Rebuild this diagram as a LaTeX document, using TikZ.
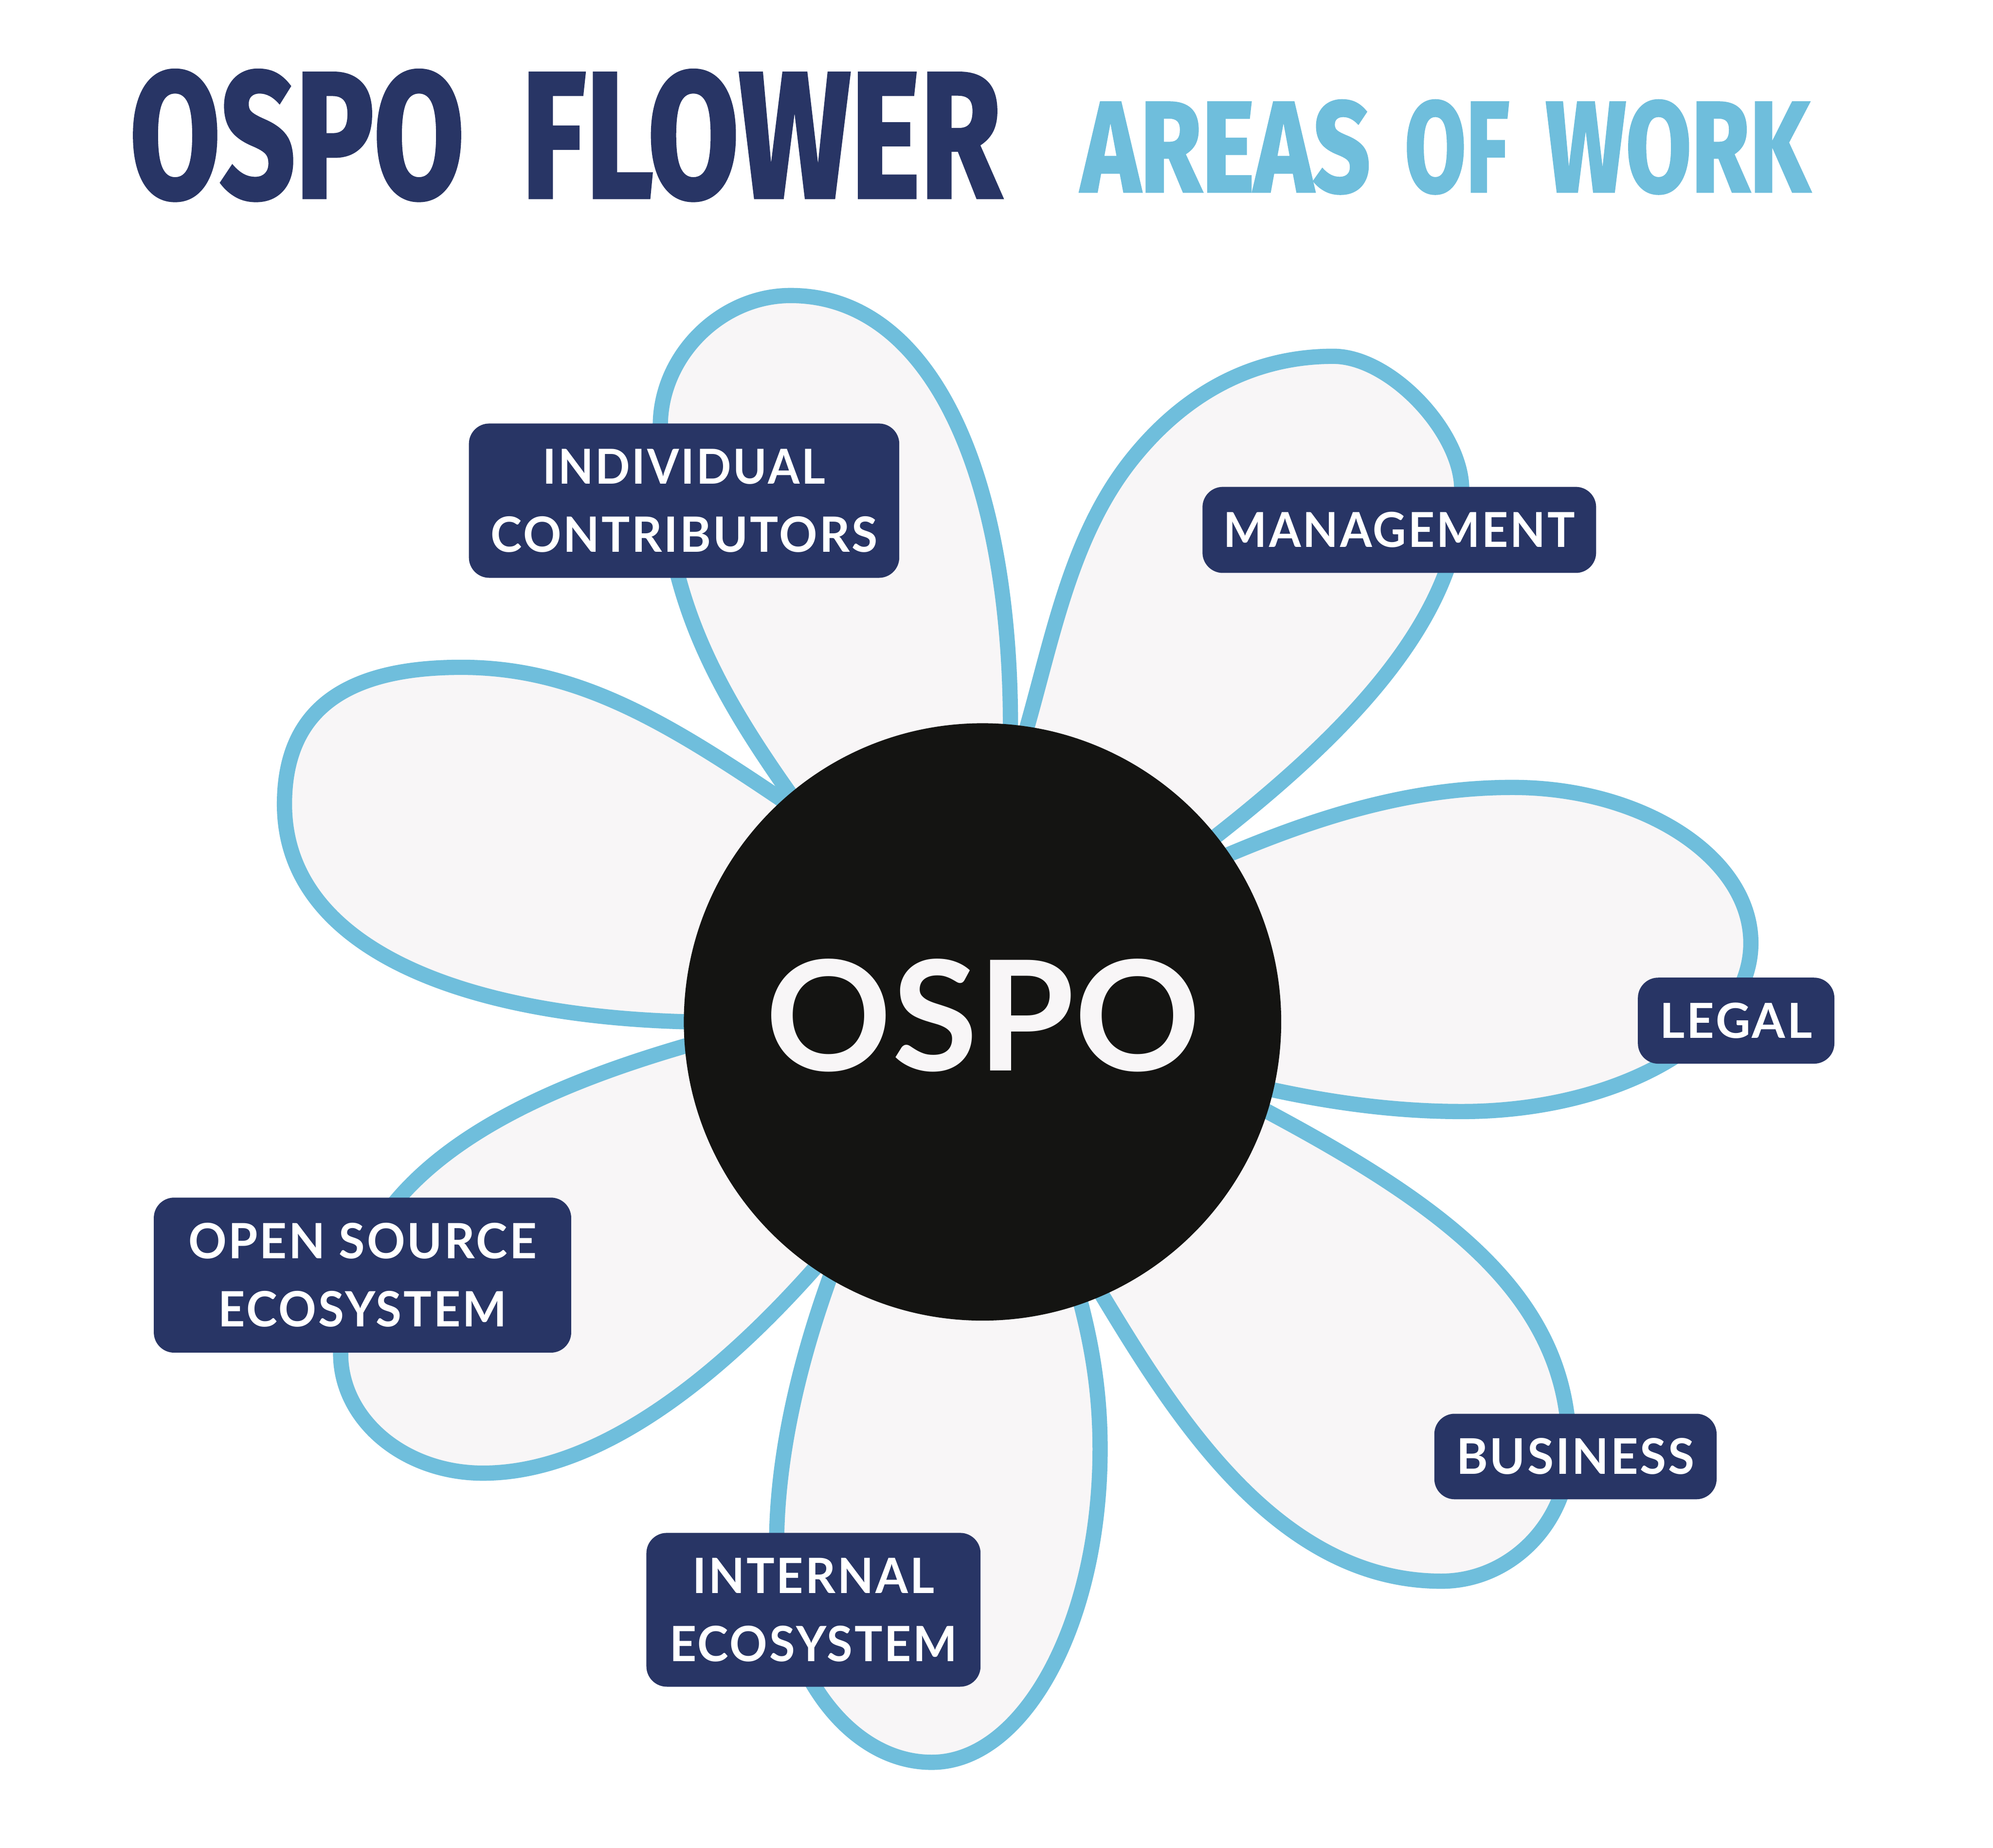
\documentclass[tikz,border=0pt]{standalone}
\usepackage{fontspec}
\usepackage{graphicx}
\newfontfamily\titlefont{Fira Sans}[FakeBold=2]
\newfontfamily\lblfont{Lato}[LetterSpace=4]
\newfontfamily\corefont{Lato}
\definecolor{navy}{HTML}{283565}
\definecolor{skyblue}{HTML}{6FBEDC}
\definecolor{petalfill}{HTML}{F8F6F7}
\definecolor{coreblack}{HTML}{141412}
\newcommand\fitbox[3]{\resizebox{#1pt}{#2pt}{#3}}
\tikzset{
  petal/.style={draw=skyblue, fill=petalfill, line width=12pt, line join=round},
  labelbox/.style={rectangle, rounded corners=16pt, fill=navy, text=white, inner sep=0pt,
    font=\lblfont\bfseries\fontsize{38}{53.5}\selectfont, align=center},
  titledark/.style={inner sep=0pt, anchor=base west, text=navy, font=\titlefont\bfseries\fontsize{140}{150}\selectfont},
  titlelight/.style={inner sep=0pt, anchor=base west, text=skyblue, font=\titlefont\bfseries\fontsize{140}{150}\selectfont},
}
\begin{document}
\begin{tikzpicture}[x=1pt, y=-1pt]
\fill[white] (0,0) rectangle (1568,1453.8);
\useasboundingbox (0,0) rectangle (1568,1453.8);

% title
\node[titledark] (t1) at (102,155.3) {\fitbox{263}{100}{OSPO}};
\node[titledark] (t2) at (410,155.3) {\fitbox{377.5}{100}{FLOWER}};
\node[titlelight] (t3) at (850.4,150.7) {\fitbox{227.5}{71.7}{AREAS}};
\node[titlelight] (t4) at (1105,150.7) {\fitbox{82}{71.7}{OF}};
\node[titlelight] (t5) at (1216,150.7) {\fitbox{207.4}{71.7}{WORK}};

% petals
% individual contributors
\draw[petal] (633,641) -- (621.5,624.5)
  .. controls (551.9,526.1) and (519.5,455) .. (519.5,335)
  .. controls (519.5,280) and (567,232.5) .. (622,232.5)
  .. controls (732,232.5) and (795,372) .. (795,572)
  -- (795,600) -- (740,700) -- cycle;
% left (no label)
\draw[petal] (635,642.6) -- (614.2,628.6)
  .. controls (522.9,567) and (453,525) .. (363,525)
  .. controls (273,525) and (223.8,557.7) .. (223.8,632.7)
  .. controls (223.8,742.7) and (356.8,798.4) .. (536.8,803.8)
  -- (566,805) -- (650,740) -- cycle;
% management
\draw[petal] (802,593.6) -- (808.7,569.6)
  .. controls (829,497.6) and (843.7,420.3) .. (890.2,361.8)
  .. controls (930.5,311.1) and (984,280.3) .. (1049,280.3)
  .. controls (1094,280.3) and (1150,340) .. (1150,385)
  .. controls (1150,485) and (1060.1,576.7) .. (957.4,657.3)
  -- (937.7,672.8) -- (850,700) -- (815,600) -- cycle;
% legal
\draw[petal] (940.5,683.4) -- (963.5,673.6)
  .. controls (1037.1,642.4) and (1110,619.5) .. (1190,619.5)
  .. controls (1293,619.5) and (1377.5,675) .. (1377.5,742)
  .. controls (1377.5,815) and (1275,874.5) .. (1150,874.5)
  .. controls (1100,874.5) and (1051.1,868.1) .. (1002.1,857.6)
  -- (977.6,852.4) -- (900,760) -- cycle;
% business
\draw[petal] (974,862.2) -- (996,873.9)
  .. controls (1136.8,949.1) and (1234.5,1020) .. (1234.5,1140)
  .. controls (1234.5,1197) and (1189,1244) .. (1134,1244)
  .. controls (1004,1244) and (922.8,1111.1) .. (865.6,1016.5)
  -- (852.6,995) -- (860,900) -- cycle;
% internal ecosystem
\draw[petal] (661.7,980.8) -- (653.2,1004.3)
  .. controls (629.4,1070.1) and (611,1145) .. (611,1215)
  .. controls (611,1309) and (666,1386.5) .. (733,1386.5)
  .. controls (806,1386.5) and (865.5,1276) .. (865.5,1140)
  .. controls (865.5,1100) and (860.5,1064.8) .. (850.5,1026)
  -- (844.3,1001.8) -- (760,950) -- cycle;
% open source ecosystem
\draw[petal] (563.1,815.9) -- (539.1,822.9)
  .. controls (395.1,864.9) and (268,930) .. (268,1065)
  .. controls (268,1117) and (318,1159) .. (380,1159)
  .. controls (480,1159) and (578.6,1067.7) .. (638.9,1000.2)
  -- (655.7,981.5) -- (640,880) -- cycle;

% core
\node[circle, fill=coreblack, minimum size=470pt, inner sep=0pt] (core) at (773,804) {};
\node[inner sep=0pt, text=petalfill, font=\corefont\bfseries\fontsize{120}{130}\selectfont] (coretext) at (773.5,799) {\fitbox{342}{88}{OSPO}};

% labels
\node[labelbox, minimum width=338.6pt, minimum height=121.4pt] (lic) at (538.2,393.9)
  {\fitbox{222.4}{27.4}{INDIVIDUAL}\\\fitbox{304.4}{28}{CONTRIBUTORS}};
\node[labelbox, minimum width=309.7pt, minimum height=67.7pt] (lman) at (1100.9,416.9)
  {\fitbox{276.3}{27.7}{MANAGEMENT}};
\node[labelbox, minimum width=154.6pt, minimum height=67.7pt] (lleg) at (1365.9,803)
  {\fitbox{119.7}{27.8}{LEGAL}};
\node[labelbox, minimum width=222.1pt, minimum height=67.3pt] (lbus) at (1239.5,1145.9)
  {\fitbox{187.4}{28.3}{BUSINESS}};
\node[labelbox, minimum width=262.9pt, minimum height=121pt] (lint) at (640,1266.5)
  {\fitbox{190}{27.7}{INTERNAL}\\\fitbox{226.5}{28}{ECOSYSTEM}};
\node[labelbox, minimum width=328.4pt, minimum height=122pt] (lopen) at (285.2,1003.2)
  {\fitbox{274}{28}{OPEN SOURCE}\\\fitbox{227}{28}{ECOSYSTEM}};
\end{tikzpicture}
\end{document}
